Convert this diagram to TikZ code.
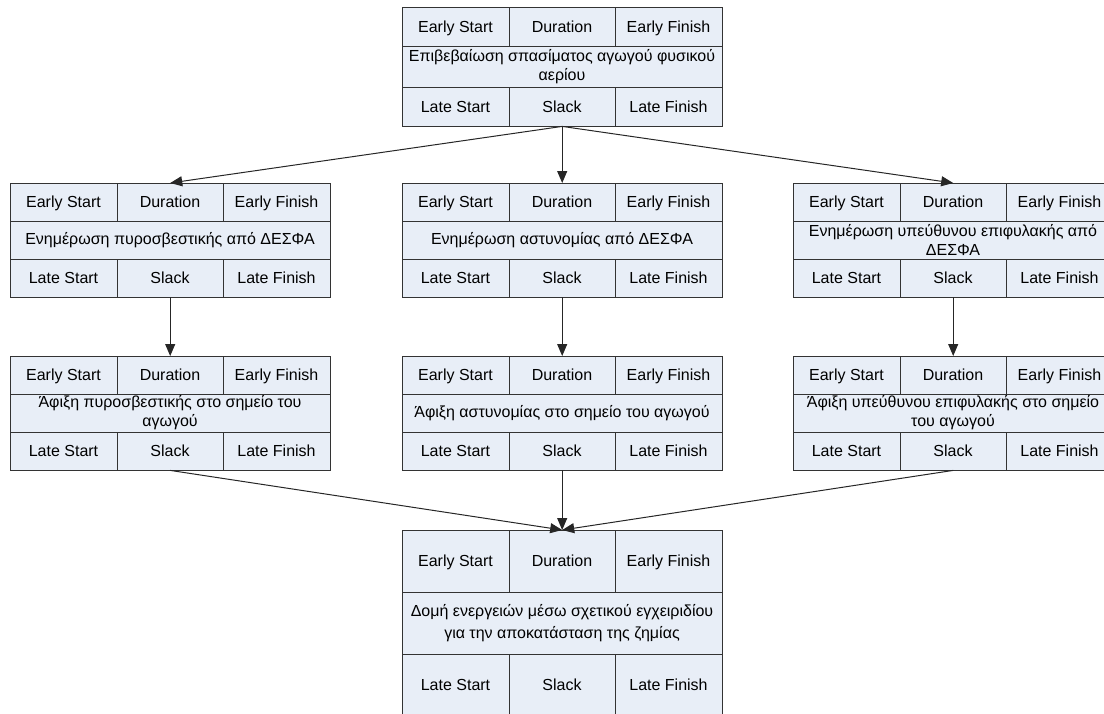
\documentclass[tikz,border=0pt]{standalone}
\usepackage{fontspec}
\setmainfont{Liberation Sans}
\usetikzlibrary{arrows.meta}

\definecolor{cellfill}{HTML}{E8EEF7}
\definecolor{cellline}{HTML}{333333}

\tikzset{
	cell/.style={draw=cellline, fill=cellfill, line width=1pt},
	grid/.style={draw=cellline, line width=1pt},
	txt/.style={inner sep=0pt, align=center, font=\fontsize{16}{19}\selectfont},
	head/.style={txt, anchor=base},
	link/.style={draw=black!85, line width=1pt, -{Triangle[length=12pt, width=10pt]}}
}

% name, left x, top y, row heights, activity label
\newcommand{\pertbox}[6]{%
	\begin{scope}[shift={(#2,#3)}]
		\filldraw[cell] (0,0) rectangle (320,{#4+#5+#4});
		\draw[grid] (0,#4) -- (320,#4);
		\draw[grid] (0,{#4+#5}) -- (320,{#4+#5});
		\draw[grid] (107,0) -- (107,#4);
		\draw[grid] (213,0) -- (213,#4);
		\draw[grid] (107,{#4+#5}) -- (107,{#4+#5+#4});
		\draw[grid] (213,{#4+#5}) -- (213,{#4+#5+#4});
		\node[inner sep=0pt, minimum width=320pt, minimum height={(#4+#5+#4)*1pt}, anchor=north west] (#1) at (0,0) {};
		\node[head] (#1-es) at (53.5,{#4/2+5.8}) {Early Start};
		\node[head] (#1-du) at (160,{#4/2+5.8}) {Duration};
		\node[head] (#1-ef) at (266.5,{#4/2+5.8}) {Early Finish};
		\node[txt] (#1-lbl) at (160,{#4+#5/2}) {#6};
		\node[head] (#1-ls) at (53.5,{#4+#5+#4/2+5.8}) {Late Start};
		\node[head] (#1-sl) at (160,{#4+#5+#4/2+5.8}) {Slack};
		\node[head] (#1-lf) at (266.5,{#4+#5+#4/2+5.8}) {Late Finish};
	\end{scope}
}

\begin{document}
\begin{tikzpicture}[x=1pt, y=-1pt]

\path[use as bounding box, clip] (0,0) rectangle (1104,713);

% Activities
\pertbox{leak}{402}{7}{39}{41}{Επιβεβαίωση σπασίματος αγωγού φυσικού\\αερίου}

\pertbox{fireinfo}{10}{183}{38}{38}{Ενημέρωση πυροσβεστικής από ΔΕΣΦΑ}
\pertbox{policeinfo}{402}{183}{38}{38}{Ενημέρωση αστυνομίας από ΔΕΣΦΑ}
\pertbox{guardinfo}{793}{183}{38}{38}{Ενημέρωση υπεύθυνου επιφυλακής από\\ΔΕΣΦΑ}

\pertbox{firearr}{10}{356}{38}{38}{Άφιξη πυροσβεστικής στο σημείο του\\αγωγού}
\pertbox{policearr}{402}{356}{38}{38}{Άφιξη αστυνομίας στο σημείο του αγωγού}
\pertbox{guardarr}{793}{356}{38}{38}{Άφιξη υπεύθυνου επιφυλακής στο σημείο\\του αγωγού}

\pertbox{repair}{402}{530}{62}{62}{Δομή ενεργειών μέσω σχετικού εγχειριδίου\\[3pt]για την αποκατάσταση της ζημίας}

% Dependencies
\draw[link] (leak.south) -- (fireinfo.north);
\draw[link] (leak.south) -- (policeinfo.north);
\draw[link] (leak.south) -- (guardinfo.north);

\draw[link] (fireinfo.south) -- (firearr.north);
\draw[link] (policeinfo.south) -- (policearr.north);
\draw[link] (guardinfo.south) -- (guardarr.north);

\draw[link] (firearr.south) -- (repair.north);
\draw[link] (policearr.south) -- (repair.north);
\draw[link] (guardarr.south) -- (repair.north);

\end{tikzpicture}
\end{document}
